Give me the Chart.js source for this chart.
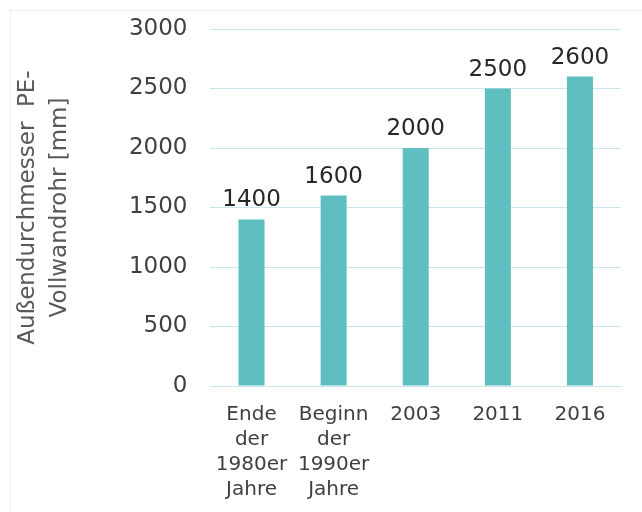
<!DOCTYPE html>
<html>
<head>
<meta charset="utf-8">
<script src="https://cdn.jsdelivr.net/npm/chart.js@4"></script>
<style>
  html, body { margin: 0; padding: 0; background: #fff; }
  #wrap { width: 642px; height: 512px; position: relative; }
</style>
</head>
<body>
<div id="wrap"><canvas id="diameterChart"></canvas></div>
<script>
// chart data
const categories = [
    ['Ende', 'der', '1980er', 'Jahre'],
    ['Beginn', 'der', '1990er', 'Jahre'],
    '2003',
    '2011',
    '2016'
];
const diameters = [1400, 1600, 2000, 2500, 2600];
const yTicks = [0, 500, 1000, 1500, 2000, 2500, 3000];
const yTitle = ['Außendurchmesser  PE-', 'Vollwandrohr [mm]'];

const barColor = '#5FBFC0';
const textColor = '#404040';
const gridColor = '#CBE5F0';

// draws the value above each bar
const valueLabels = {
    id: 'valueLabels',
    afterDatasetsDraw(chart) {
        const ctx = chart.ctx;
        ctx.save();
        ctx.font = '23px "DejaVu Sans"';
        ctx.fillStyle = '#262626';
        ctx.textAlign = 'center';
        ctx.textBaseline = 'alphabetic';
        chart.getDatasetMeta(0).data.forEach((bar, i) => {
            ctx.fillText(diameters[i], bar.x, bar.y - 13);
        });
        ctx.restore();
    }
};

// faint frame around the picture
const frame = {
    id: 'frame',
    beforeDraw(chart) {
        const ctx = chart.ctx;
        ctx.save();
        ctx.strokeStyle = '#EEEEEE';
        ctx.lineWidth = 1;
        ctx.strokeRect(10.5, 10.5, 640, 520);
        ctx.restore();
    }
};

const ctx = document.getElementById('diameterChart').getContext('2d');
const diameterChart = new Chart(ctx, {
    type: 'bar',
    data: {
        labels: categories,
        datasets: [{
            data: diameters,
            backgroundColor: barColor,
            barPercentage: 0.634,
            categoryPercentage: 0.5
        }]
    },
    options: {
        responsive: true,
        maintainAspectRatio: false,
        animation: false,
        layout: {
            padding: { left: 12, right: 21, top: 29, bottom: 2 }
        },
        plugins: {
            legend: { display: false },
            tooltip: { enabled: false }
        },
        scales: {
            x: {
                grid: { display: false },
                border: { color: gridColor },
                ticks: {
                    color: textColor,
                    font: { family: 'DejaVu Sans', size: 20, lineHeight: 1.25 },
                    maxRotation: 0,
                    autoSkip: false,
                    padding: 8
                }
            },
            y: {
                min: 0,
                max: 3000,
                afterBuildTicks: axis => {
                    axis.ticks = yTicks.map(v => ({ value: v }));
                },
                afterFit: axis => {
                    axis.paddingTop = 0;
                    axis.paddingBottom = 0;
                },
                grid: { color: gridColor, drawTicks: false },
                border: { display: false },
                ticks: {
                    color: textColor,
                    font: { family: 'DejaVu Sans', size: 23 },
                    padding: 23,
                    callback: value => String(value)
                },
                title: {
                    display: true,
                    text: yTitle,
                    color: '#595959',
                    font: { family: 'DejaVu Sans', size: 23, lineHeight: 1.39 },
                    padding: { top: 0, bottom: 30 }
                }
            }
        }
    },
    plugins: [frame, valueLabels]
});
</script>
</body>
</html>
